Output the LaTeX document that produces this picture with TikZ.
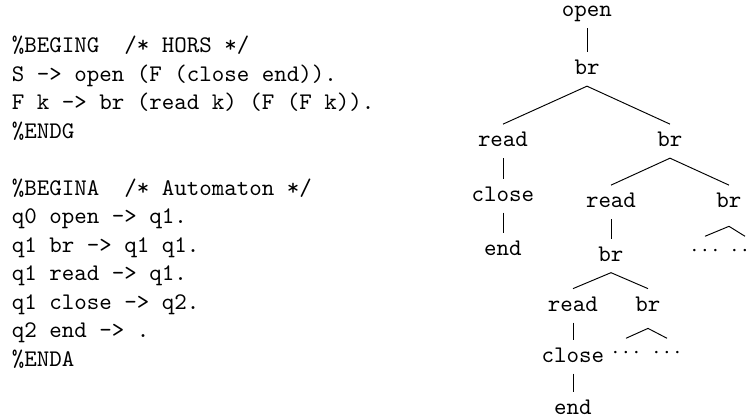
\documentclass[tikz,border=0pt]{standalone}
\begin{document}
\begin{tikzpicture}[x=0.42pt,y=-0.42pt,
  txt/.style={font=\ttfamily\fontsize{10}{12}\selectfont, inner sep=0pt, anchor=base west},
  tn/.style={font=\ttfamily\fontsize{10}{12}\selectfont, inner xsep=1pt, inner ysep=3.2pt, text height=6.2pt, text depth=1.3pt, anchor=base},
  dn/.style={tn, text height=5.3pt},
  conn/.style={line width=0.4pt}]
\useasboundingbox (0,0) rectangle (754,417);
% left program text
\node[txt] (l1)  at (11.5,53)    {\%BEGING\ \ /* HORS */};
\node[txt] (l2)  at (11.5,81.5)  {S -> open (F (close end)).};
\node[txt] (l3)  at (11.5,110)   {F k -> br (read k) (F (F k)).};
\node[txt] (l4)  at (11.5,138.5) {\%ENDG};
\node[txt] (l5)  at (11.5,195.5) {\%BEGINA\ \ /* Automaton */};
\node[txt] (l6)  at (11.5,224)   {q0 open -> q1.};
\node[txt] (l7)  at (11.5,252.5) {q1 br -> q1 q1.};
\node[txt] (l8)  at (11.5,281)   {q1 read -> q1.};
\node[txt] (l9)  at (11.5,309.5) {q1 close -> q2.};
\node[txt] (l10) at (11.5,338)   {q2 end -> .};
\node[txt] (l11) at (11.5,366.5) {\%ENDA};
% tree
\node[tn] (open)   at (587,17)    {open};
\node[tn] (br1)    at (587,75)    {br};
\node[tn] (readL)  at (503,147)   {read};
\node[tn] (closeL) at (503,201.5) {close};
\node[tn] (endL)   at (503,255.5) {end};
\node[tn] (br2)    at (670,147)   {br};
\node[tn] (read2)  at (611,208)   {read};
\node[tn] (br3)    at (729,208)   {br};
\node[dn] (dA)     at (705,257)   {$\cdots$};
\node[dn] (dB)     at (745,257)   {$\cdots$};
\node[tn] (br4)    at (611,261.5) {br};
\node[tn] (read3)  at (573,311.5) {read};
\node[tn] (br5)    at (648,311.5) {br};
\node[tn] (close3) at (573,362.5) {close};
\node[dn] (dC)     at (626,359)   {$\cdots$};
\node[dn] (dD)     at (667,359)   {$\cdots$};
\node[tn] (end3)   at (573,415)   {end};
\draw[conn] (open.south) -- (br1.north);
\draw[conn] (br1.south) -- (readL.north);
\draw[conn] (br1.south) -- (br2.north);
\draw[conn] (readL.south) -- (closeL.north);
\draw[conn] (closeL.south) -- (endL.north);
\draw[conn] (br2.south) -- (read2.north);
\draw[conn] (br2.south) -- (br3.north);
\draw[conn] ([yshift=-3pt]br3.south) -- (dA.north);
\draw[conn] ([yshift=-3pt]br3.south) -- (dB.north);
\draw[conn] (read2.south) -- (br4.north);
\draw[conn] (br4.south) -- (read3.north);
\draw[conn] (br4.south) -- (br5.north);
\draw[conn] (read3.south) -- (close3.north);
\draw[conn] ([yshift=-2.4pt]br5.south) -- (dC.north);
\draw[conn] ([yshift=-2.4pt]br5.south) -- (dD.north);
\draw[conn] (close3.south) -- (end3.north);
\end{tikzpicture}
\end{document}
